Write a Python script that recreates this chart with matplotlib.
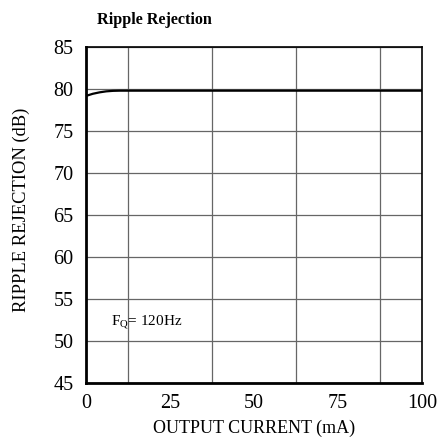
import numpy as np
import matplotlib.pyplot as plt

# curve: rises a little then stays flat
current_ma = [0, 2, 4, 6, 8, 10, 12, 100]
rejection_db = [79.2, 79.45, 79.62, 79.74, 79.8, 79.82, 79.82, 79.82]

x_ticks = [0, 25, 50, 75, 100]
y_ticks = [45, 50, 55, 60, 65, 70, 75, 80, 85]

plt.rcParams['font.family'] = ['Liberation Serif', 'DejaVu Serif']

fig = plt.figure(figsize=(4.37, 4.41), dpi=100)
ax = fig.add_axes([0.197, 0.1315, 0.769, 0.7615])

ax.plot(current_ma, rejection_db, color='black', linewidth=1.6, zorder=3)

ax.set_xlim(0, 100)
ax.set_ylim(45, 85)
ax.set_xticks(x_ticks)
ax.set_yticks(y_ticks)
# vertical grid every 12.5 mA
ax.set_xticks(np.arange(0, 101, 12.5), minor=True)
ax.grid(which='minor', axis='x', color='#666666', linewidth=0.9)
ax.grid(which='major', axis='y', color='#666666', linewidth=0.9)
ax.tick_params(which='both', length=0, labelsize=14.5)
ax.tick_params(axis='y', pad=9)
ax.tick_params(axis='x', pad=8)

for side in ['left', 'bottom']:
    ax.spines[side].set_linewidth(2.0)
for side in ['top', 'right']:
    ax.spines[side].set_linewidth(1.2)

ax.set_xlabel('OUTPUT CURRENT (mA)', fontsize=13, labelpad=5)
ax.set_ylabel('RIPPLE REJECTION (dB)', fontsize=13.3)
ax.yaxis.set_label_coords(-0.167, 0.515)

ax.text(7.5, 52.3, r'F$_\mathregular{Q}$= 120Hz', fontsize=11, va='center')

fig.text(0.222, 0.955, 'Ripple Rejection', fontsize=11.6, fontweight='bold', va='center')

fig.savefig('out.png', dpi=100)
